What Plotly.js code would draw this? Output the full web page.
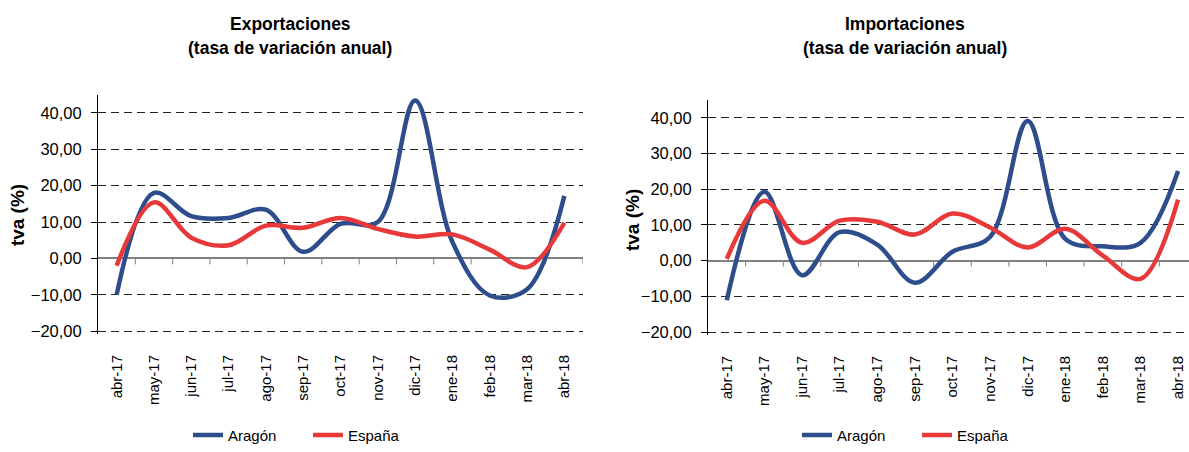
<!DOCTYPE html>
<html><head><meta charset="utf-8">
<script src="https://cdn.plot.ly/plotly-3.0.1.min.js"></script>
<style>html,body{margin:0;padding:0;background:#fff}#chart{width:1189px;height:452px}</style>
</head><body><div id="chart"></div>
<script>
var months = ["abr-17","may-17","jun-17","jul-17","ago-17","sep-17","oct-17","nov-17","dic-17","ene-18","feb-18","mar-18","abr-18"];
var expAragon = [-10, 18, 11.6, 11.1, 13.4, 1.8, 9.5, 10, 43.4, 4.5, -10.2, -8.5, 17.2];
var expEspana = [-2, 15.4, 5.7, 3.6, 9.0, 8.4, 11.1, 8.1, 6.0, 6.6, 2.4, -2.4, 9.8];
var impAragon = [-11.1, 19.3, -4.1, 8.0, 4.5, -6.2, 2.5, 6.6, 39.1, 6.1, 4.0, 5.0, 25.1];
var impEspana = [0.5, 16.8, 5.0, 11.2, 10.9, 7.3, 13.2, 9.3, 3.7, 8.9, 1.4, -5.1, 17.1];
var titleLine1 = ["Exportaciones", "Importaciones"];
var titleLine2 = "(tasa de variación anual)";
var seriesNames = ["Aragón", "España"];
var yTitle = "tva (%)";

var W = 1189, H = 452;
var BLUE = "#2E4D8C", RED = "#E8393A";
var FONT = "Liberation Sans, Arial, sans-serif";
var yRange = [-20.8, 45];

var panels = [
  {dom: [98/W, 583/W], ydom: [1-340/H, 1-96.5/H], xr: [-0.5, 12.5], a: expAragon, e: expEspana, tx: 290, ytx: 17, yty: 219, leg: 188},
  {dom: [708/W, 1], ydom: [1-340.9/H, 1-101.8/H], xr: [-0.5, 12.29], a: impAragon, e: impEspana, tx: 905, ytx: 632, yty: 224, leg: 797}
];

var data = [], shapes = [], annotations = [];
var layout = {
  width: W, height: H, margin: {l:0, r:0, t:0, b:0},
  paper_bgcolor: "#fff", plot_bgcolor: "rgba(0,0,0,0)",
  separators: ",.", showlegend: true,
  font: {family: FONT, color: "#000", size: 15}
};

panels.forEach(function(p, i) {
  var n = i === 0 ? "" : "2";
  var xa = "x" + n, ya = "y" + n;
  var legName = i === 0 ? "legend" : "legend2";
  [[p.a, BLUE, seriesNames[0]], [p.e, RED, seriesNames[1]]].forEach(function(s) {
    data.push({type: "scatter", mode: "lines", x: months, y: s[0], name: s[2],
      xaxis: xa, yaxis: ya, legend: legName,
      line: {color: s[1], width: 4.5, shape: "spline", smoothing: 1}});
  });
  layout["xaxis" + n] = {domain: p.dom, anchor: ya, type: "category", range: p.xr,
    tickangle: -90, ticks: "outside", ticklen: 14, tickcolor: "rgba(0,0,0,0)",
    showline: false, showgrid: false, zeroline: false, tickfont: {size: 15, family: FONT}};
  layout["yaxis" + n] = {domain: p.ydom, anchor: xa, range: yRange, dtick: 10, tick0: 0,
    tickformat: ".2f", ticks: "outside", ticklen: 6, tickcolor: "#000", ticklabelstandoff: 6,
    showline: true, linecolor: "#000", linewidth: 1,
    showgrid: true, gridcolor: "#222", gridwidth: 1, griddash: "8px,5px",
    zeroline: true, zerolinecolor: "#808080", zerolinewidth: 2,
    tickfont: {size: 16.5, family: FONT}};
  for (var k = 0; k < months.length; k++) {
    shapes.push({type: "line", xref: xa, yref: ya, x0: k + 0.5, x1: k + 0.5,
      ysizemode: "pixel", yanchor: 0, y0: 0, y1: -6, layer: "below",
      line: {color: "#808080", width: 1}});
  }
  annotations.push({xref: "paper", yref: "paper", x: p.tx / W, y: 1 - 24 / H,
    xanchor: "center", yanchor: "middle", showarrow: false, text: "<b>" + titleLine1[i] + "</b>",
    font: {size: 17.5, family: FONT}});
  annotations.push({xref: "paper", yref: "paper", x: p.tx / W, y: 1 - 49 / H,
    xanchor: "center", yanchor: "middle", showarrow: false, text: "<b>" + titleLine2 + "</b>",
    font: {size: 17.5, family: FONT}});
  annotations.push({xref: "paper", yref: "paper", x: p.ytx / W, y: 1 - p.yty / H,
    xanchor: "center", yanchor: "middle", showarrow: false, text: "<b>" + yTitle + "</b>", textangle: -90,
    font: {size: 19, family: FONT}});
  layout[legName] = {orientation: "h", x: p.leg / W, xanchor: "left", y: 1 - 443 / H, yanchor: "middle",
    bgcolor: "rgba(0,0,0,0)", font: {size: 15, family: FONT}, tracegroupgap: 0,
    entrywidth: 75, entrywidthmode: "pixels"};
});
layout.shapes = shapes;
layout.annotations = annotations;
Plotly.newPlot("chart", data, layout, {staticPlot: true});
</script></body></html>
